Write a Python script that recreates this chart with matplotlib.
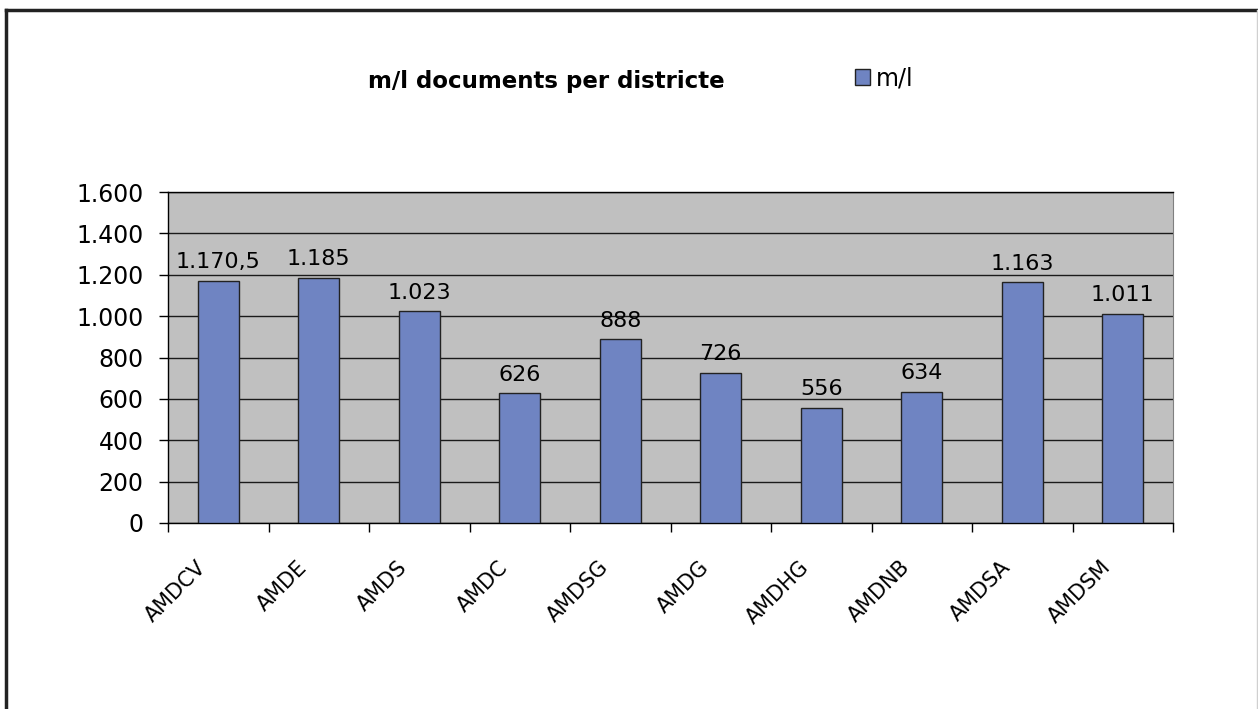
import matplotlib
matplotlib.use("Agg")
import matplotlib.pyplot as plt
from matplotlib.lines import Line2D
from matplotlib.patches import Rectangle
from matplotlib.ticker import FixedLocator, FuncFormatter
from matplotlib.transforms import ScaledTranslation

categories = ["AMDCV", "AMDE", "AMDS", "AMDC", "AMDSG", "AMDG", "AMDHG", "AMDNB", "AMDSA", "AMDSM"]
values = [1170.5, 1185, 1023, 626, 888, 726, 556, 634, 1163, 1011]
yticks = [0, 200, 400, 600, 800, 1000, 1200, 1400, 1600]
title = "m/l documents per districte"
series_name = "m/l"


def euro(v):
    if float(v).is_integer():
        s = f"{int(v):,}".replace(",", ".")
    else:
        ip = int(v)
        frac = f"{v - ip:.1f}"[2:]
        s = f"{ip:,}".replace(",", ".") + "," + frac
    return s


bar_color = "#6F84C2"
bg = "#C0C0C0"

fig = plt.figure(figsize=(12.58, 7.09), dpi=100)
ax = fig.add_axes([168 / 1258, 186 / 709, 1005 / 1258, 331 / 709])
ax.set_facecolor(bg)

x = list(range(len(categories)))
ax.bar(x, values, width=0.41, color=bar_color, edgecolor="#222222", linewidth=1.0, zorder=3)

ax.set_xlim(-0.5, len(categories) - 0.5)
ax.set_ylim(0, 1600)
ax.set_yticks(yticks)
ax.yaxis.set_major_formatter(FuncFormatter(lambda v, p: euro(v)))
ax.grid(axis="y", color="#1a1a1a", linewidth=1.0, zorder=1)
ax.set_axisbelow(True)

ax.tick_params(axis="y", direction="out", length=6.5, width=1, labelsize=17, pad=11, colors="#000000")
ax.set_xticks(x)
ax.set_xticklabels([])
ax.tick_params(axis="x", which="major", length=0)
ax.xaxis.set_minor_locator(FixedLocator([i - 0.5 for i in range(len(categories) + 1)]))
ax.tick_params(axis="x", which="minor", direction="out", length=6.5, width=1, color="#000000")

# rotated category labels
off = ScaledTranslation(-22 / 100, -34 / 100, fig.dpi_scale_trans)
for xi, c in zip(x, categories):
    ax.text(xi, 0, c, rotation=45, ha="right", va="top", rotation_mode="anchor",
            fontsize=15, color="#000000", transform=ax.transData + off, clip_on=False)

for sp in ["left", "bottom", "top"]:
    ax.spines[sp].set_color("#000000")
    ax.spines[sp].set_linewidth(1.0)
ax.spines["right"].set_color("#808080")

for xi, v in zip(x, values):
    ax.annotate(euro(v), (xi, v), xytext=(0, 9), textcoords="offset points",
                ha="center", va="baseline", fontsize=16, color="#000000", zorder=4)

fig.text(546 / 1258, 1 - 88 / 709, title, ha="center", va="baseline",
         fontsize=16.5, fontweight="bold", color="#000000")

# legend
fig.patches.append(Rectangle((855 / 1258, 1 - 85 / 709), 15 / 1258, 16 / 709,
                             transform=fig.transFigure, facecolor=bar_color,
                             edgecolor="#222222", linewidth=1.0))
fig.text(876 / 1258, 1 - 85 / 709, series_name, ha="left", va="baseline", fontsize=17, color="#000000")

# outer frame
fig.add_artist(Line2D([6 / 1258, 1], [1 - 10 / 709, 1 - 10 / 709], transform=fig.transFigure,
                      color="#222222", linewidth=2.5))
fig.add_artist(Line2D([6 / 1258, 6 / 1258], [0, 1 - 10 / 709], transform=fig.transFigure,
                      color="#222222", linewidth=2.5))
fig.add_artist(Line2D([1257 / 1258, 1257 / 1258], [0, 1 - 10 / 709], transform=fig.transFigure,
                      color="#d0d0d0", linewidth=1.0))

fig.savefig("out.png", dpi=100)
